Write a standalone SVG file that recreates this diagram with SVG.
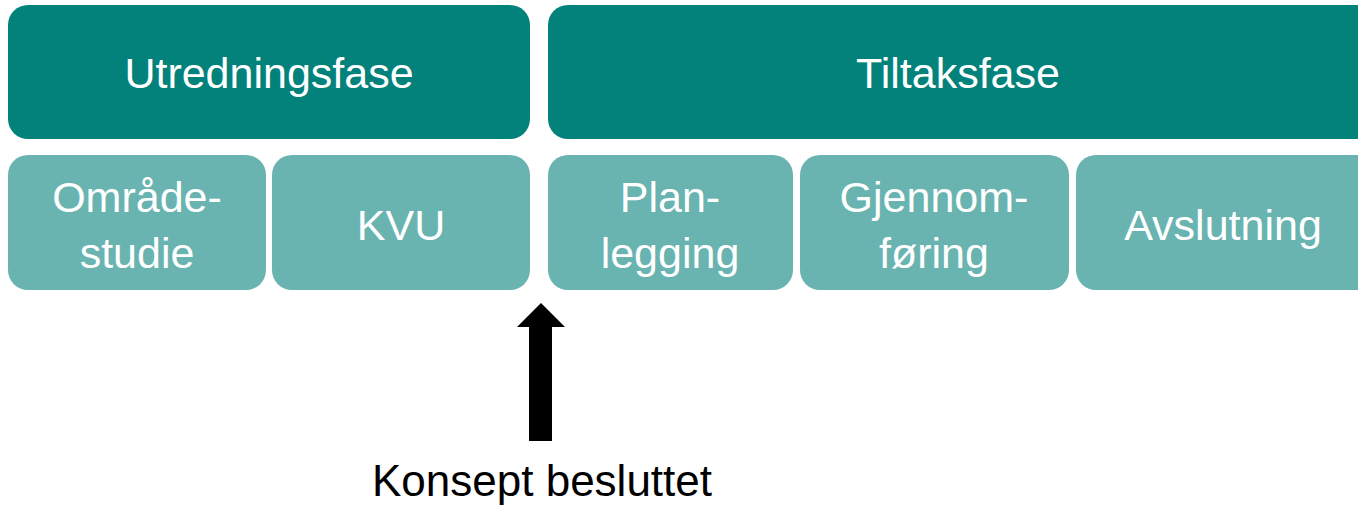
<svg xmlns="http://www.w3.org/2000/svg" width="1358" height="506" viewBox="0 0 1358 506">
  <style>
    .phase { fill: #03827b; }
    .step { fill: #69b4b1; }
    .lbl { font-family: "Liberation Sans", Arial, sans-serif; font-size: 43px; fill: #ffffff; text-anchor: middle; }
    .note { font-family: "Liberation Sans", Arial, sans-serif; font-size: 44px; fill: #000000; text-anchor: middle; }
  </style>
  <rect width="1358" height="506" fill="#ffffff"/>

  <!-- Phases -->
  <g id="utredningsfase">
    <rect class="phase" x="8" y="5" width="522" height="134" rx="20"/>
    <text class="lbl" x="269" y="88">Utredningsfase</text>
  </g>
  <g id="tiltaksfase">
    <rect class="phase" x="548" y="5" width="830" height="134" rx="20"/>
    <text class="lbl" x="958" y="88">Tiltaksfase</text>
  </g>

  <!-- Steps -->
  <g id="omradestudie">
    <rect class="step" x="8" y="155" width="258" height="135" rx="20"/>
    <text class="lbl" x="137" y="212">Område-</text>
    <text class="lbl" x="137" y="268">studie</text>
  </g>
  <g id="kvu">
    <rect class="step" x="272" y="155" width="258" height="135" rx="20"/>
    <text class="lbl" x="401" y="240">KVU</text>
  </g>
  <g id="planlegging">
    <rect class="step" x="548" y="155" width="245" height="135" rx="20"/>
    <text class="lbl" x="670" y="212">Plan-</text>
    <text class="lbl" x="670" y="268">legging</text>
  </g>
  <g id="gjennomforing">
    <rect class="step" x="800" y="155" width="269" height="135" rx="20"/>
    <text class="lbl" x="934" y="212">Gjennom-</text>
    <text class="lbl" x="934" y="268">føring</text>
  </g>
  <g id="avslutning">
    <rect class="step" x="1076" y="155" width="302" height="135" rx="20"/>
    <text class="lbl" x="1223" y="240">Avslutning</text>
  </g>

  <!-- Decision marker -->
  <g id="connectors">
    <polygon fill="#000000" points="541,303 565,327 552,327 552,441 529,441 529,327 517,327"/>
  </g>
  <g id="konsept-besluttet">
    <text class="note" x="542" y="496">Konsept besluttet</text>
  </g>
</svg>
